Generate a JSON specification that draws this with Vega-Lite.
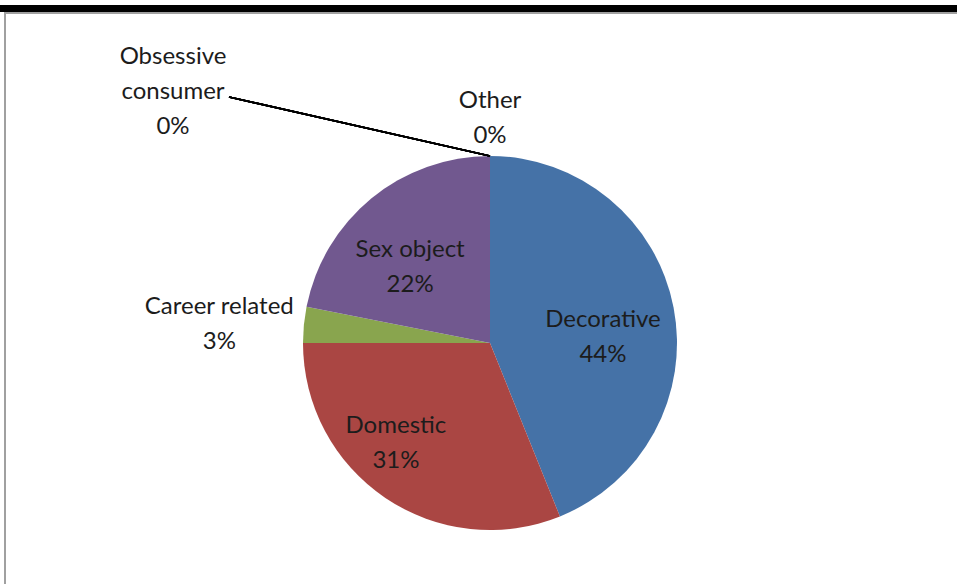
{
  "$schema": "https://vega.github.io/schema/vega-lite/v6.json",
  "width": 957,
  "height": 584,
  "autosize": {"type": "none"},
  "padding": 0,
  "background": "white",
  "config": {"view": {"stroke": null}},
  "data": {
    "values": [
      {"category": "Decorative", "value": 43.9, "order": 1, "label": "Decorative\n44%"},
      {"category": "Domestic", "value": 31.1, "order": 2, "label": "Domestic\n31%"},
      {"category": "Career related", "value": 3.1, "order": 3, "label": "Career related\n3%"},
      {"category": "Sex object", "value": 21.9, "order": 4, "label": "Sex object\n22%"},
      {"category": "Obsessive consumer", "value": 0, "order": 5, "label": "Obsessive\nconsumer\n0%"},
      {"category": "Other", "value": 0, "order": 6, "label": "Other\n0%"}
    ]
  },
  "layer": [
    {
      "mark": {"type": "rule", "strokeWidth": 7, "color": "black"},
      "encoding": {"x": {"value": 0}, "x2": {"value": 957}, "y": {"value": 8.5}, "y2": {"value": 8.5}}
    },
    {
      "mark": {"type": "rule", "strokeWidth": 1.5, "color": "#a0a0a0"},
      "encoding": {"x": {"value": 4}, "x2": {"value": 957}, "y": {"value": 12.75}, "y2": {"value": 12.75}}
    },
    {
      "mark": {"type": "rule", "strokeWidth": 2, "color": "#a0a0a0"},
      "encoding": {"x": {"value": 5}, "x2": {"value": 5}, "y": {"value": 12}, "y2": {"value": 584}}
    },
    {
      "mark": {"type": "arc", "outerRadius": 187},
      "encoding": {
        "theta": {"field": "value", "type": "quantitative", "stack": true},
        "order": {"field": "order", "type": "quantitative"},
        "color": {
          "field": "category",
          "type": "nominal",
          "legend": null,
          "scale": {
            "domain": ["Decorative", "Domestic", "Career related", "Sex object", "Obsessive consumer", "Other"],
            "range": ["#4572A7", "#AA4643", "#89A54E", "#71588F", "#4198AF", "#DB843D"]
          }
        },
        "x": {"value": 490},
        "y": {"value": 343}
      }
    },
    {
      "mark": {"type": "rule", "strokeWidth": 1.6, "color": "black"},
      "encoding": {"x": {"value": 229}, "y": {"value": 97}, "x2": {"value": 490}, "y2": {"value": 156}}
    },
    {
      "mark": {"type": "text", "font": "Lato", "fontSize": 24, "lineHeight": 35, "lineBreak": "\n", "align": "center", "baseline": "middle", "color": "#1c1c1c", "radius": 112, "dx": 3, "dy": -1.5},
      "encoding": {
        "theta": {"field": "value", "type": "quantitative", "stack": true},
        "order": {"field": "order", "type": "quantitative"},
        "x": {"value": 490},
        "y": {"value": 343},
        "text": {"condition": {"test": "datum.category === 'Decorative'", "field": "label"}, "value": ""}
      }
    },
    {
      "mark": {"type": "text", "font": "Lato", "fontSize": 24, "lineHeight": 35, "lineBreak": "\n", "align": "center", "baseline": "middle", "color": "#1c1c1c", "radius": 136, "dx": -18, "dy": -29.5},
      "encoding": {
        "theta": {"field": "value", "type": "quantitative", "stack": true},
        "order": {"field": "order", "type": "quantitative"},
        "x": {"value": 490},
        "y": {"value": 343},
        "text": {"condition": {"test": "datum.category === 'Domestic'", "field": "label"}, "value": ""}
      }
    },
    {
      "mark": {"type": "text", "font": "Lato", "fontSize": 24, "lineHeight": 35, "lineBreak": "\n", "align": "center", "baseline": "middle", "color": "#1c1c1c", "radius": 271, "dx": -1, "dy": -9.5},
      "encoding": {
        "theta": {"field": "value", "type": "quantitative", "stack": true},
        "order": {"field": "order", "type": "quantitative"},
        "x": {"value": 490},
        "y": {"value": 343},
        "text": {"condition": {"test": "datum.category === 'Career related'", "field": "label"}, "value": ""}
      }
    },
    {
      "mark": {"type": "text", "font": "Lato", "fontSize": 24, "lineHeight": 35, "lineBreak": "\n", "align": "center", "baseline": "middle", "color": "#1c1c1c", "radius": 110, "dx": -10, "dy": -8.5},
      "encoding": {
        "theta": {"field": "value", "type": "quantitative", "stack": true},
        "order": {"field": "order", "type": "quantitative"},
        "x": {"value": 490},
        "y": {"value": 343},
        "text": {"condition": {"test": "datum.category === 'Sex object'", "field": "label"}, "value": ""}
      }
    },
    {
      "mark": {"type": "text", "font": "Lato", "fontSize": 24, "lineHeight": 35, "lineBreak": "\n", "align": "center", "baseline": "middle", "color": "#1c1c1c", "radius": 250, "dx": -317, "dy": -36},
      "encoding": {
        "theta": {"field": "value", "type": "quantitative", "stack": true},
        "order": {"field": "order", "type": "quantitative"},
        "x": {"value": 490},
        "y": {"value": 343},
        "text": {"condition": {"test": "datum.category === 'Obsessive consumer'", "field": "label"}, "value": ""}
      }
    },
    {
      "mark": {"type": "text", "font": "Lato", "fontSize": 24, "lineHeight": 35, "lineBreak": "\n", "align": "center", "baseline": "middle", "color": "#1c1c1c", "radius": 225, "dx": 0, "dy": -17},
      "encoding": {
        "theta": {"field": "value", "type": "quantitative", "stack": true},
        "order": {"field": "order", "type": "quantitative"},
        "x": {"value": 490},
        "y": {"value": 343},
        "text": {"condition": {"test": "datum.category === 'Other'", "field": "label"}, "value": ""}
      }
    }
  ]
}
